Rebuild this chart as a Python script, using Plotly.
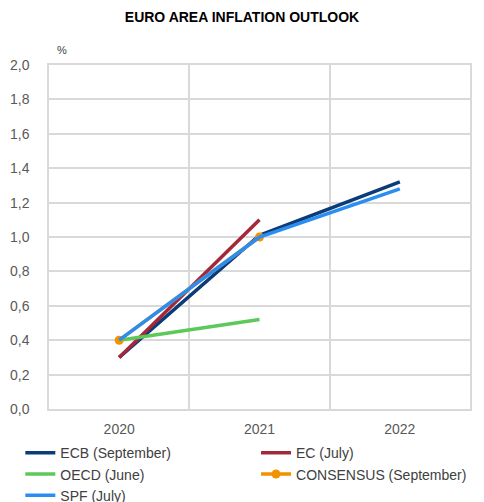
import plotly.graph_objects as go

# forecast years
years = ["2020", "2021", "2022"]

# inflation forecasts (%)
ecb_sep = [0.30, 1.01, 1.32]
ec_jul = [0.30, 1.10]
oecd_jun = [0.40, 0.52]
consensus_sep = [0.40, 1.00]
spf_jul = [0.40, 1.00, 1.28]

# name, values, colour, markers, legend column
series = [
    ("ECB (September)", ecb_sep, "#0B3C78", False, "legend"),
    ("EC (July)", ec_jul, "#A3283A", False, "legend2"),
    ("OECD (June)", oecd_jun, "#5CC95A", False, "legend"),
    ("CONSENSUS (September)", consensus_sep, "#F39200", True, "legend2"),
    ("SPF (July)", spf_jul, "#2A8DF2", False, "legend"),
]

fig = go.Figure()
for name, vals, color, markers, leg in series:
    fig.add_trace(go.Scatter(
        x=years[:len(vals)], y=vals, name=name,
        mode="lines+markers" if markers else "lines",
        line=dict(color=color, width=3.5),
        marker=dict(size=9, color=color),
        legend=leg,
    ))

grid = "#D9D9D9"
leg_style = dict(orientation="v", xref="container", yref="container", y=0.129,
                 xanchor="left", yanchor="top", font=dict(size=14, color="#404040"),
                 tracegroupgap=0, itemwidth=30, bgcolor="rgba(0,0,0,0)")
fig.update_layout(
    width=484, height=502,
    title=dict(text="<b>EURO AREA INFLATION OUTLOOK</b>", x=0.5, xanchor="center",
               y=0.966, yanchor="middle", font=dict(size=14, color="#000000")),
    font=dict(family="Liberation Sans, Arial", size=14, color="#595959"),
    separators=",.",
    plot_bgcolor="white", paper_bgcolor="white",
    margin=dict(l=49, r=14, t=65, b=93, autoexpand=False),
    legend=dict(x=0.042, **leg_style),
    legend2=dict(x=0.529, **leg_style),
    showlegend=True,
)
fig.update_xaxes(type="category", tickson="boundaries", showgrid=True, gridcolor=grid,
                 gridwidth=1.5, showline=True, linecolor=grid, linewidth=1.5, mirror=True,
                 ticks="", ticklen=0, range=[-0.5, 2.5], ticklabelstandoff=6)
fig.update_yaxes(range=[0, 2.0], dtick=0.2, tickformat=".1f", showgrid=True, gridcolor=grid,
                 gridwidth=1.5, showline=True, linecolor=grid, linewidth=1.5, mirror=True,
                 zeroline=False, ticks="", ticklabelstandoff=15)
fig.add_annotation(text="%", xref="paper", yref="paper", x=13 / 421, y=1.044,
                   xanchor="center", yanchor="middle",
                   showarrow=False, font=dict(size=11, color="#404040"))

# page body has a default margin; drop it so the figure sits at the window corner
fig.write_html("out.html", config={"displayModeBar": False},
               post_script="document.body.style.margin='0';")
